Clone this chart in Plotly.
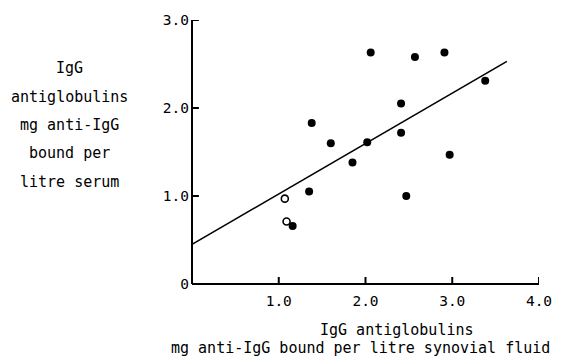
import plotly.graph_objects as go

# Data
filled_x = [1.16, 1.35, 1.38, 1.60, 1.85, 2.02, 2.06, 2.41, 2.41, 2.47, 2.57, 2.91, 2.97, 3.38]
filled_y = [0.66, 1.05, 1.83, 1.60, 1.38, 1.61, 2.63, 2.05, 1.72, 1.00, 2.58, 2.63, 1.47, 2.31]
open_x = [1.07, 1.09]
open_y = [0.97, 0.71]
fit_intercept = 0.45
fit_slope = 0.573
fit_x = [0.0, 3.63]
fit_y = [fit_intercept + fit_slope * v for v in fit_x]

x_tickvals = [1, 2, 3, 4]
x_ticktext = ["1.0", "2.0", "3.0", "4.0"]
y_tickvals = [0, 1, 2, 3]
y_ticktext = ["0", "1.0", "2.0", "3.0"]

y_title_lines = ["IgG", "antiglobulins", "mg anti-IgG", "bound per", "litre serum"]
x_title_line1 = "IgG antiglobulins"
x_title_line2 = "mg anti-IgG bound per litre synovial fluid"

FONT = "DejaVu Sans Mono"
W, H = 564, 360
L, R, T, B = 192, 20, 20, 76
pw, ph = W - L - R, H - T - B
TICKLEN = 7


def px(x):
    return (x - L) / pw


def py(y):
    return (H - B - y) / ph


fig = go.Figure()
fig.add_trace(go.Scatter(x=fit_x, y=fit_y, mode="lines",
                         line=dict(color="black", width=1.6), showlegend=False))
fig.add_trace(go.Scatter(x=filled_x, y=filled_y, mode="markers",
                         marker=dict(color="black", size=8, line=dict(width=0)),
                         showlegend=False))
fig.add_trace(go.Scatter(x=open_x, y=open_y, mode="markers",
                         marker=dict(color="white", size=7, symbol="circle",
                                     line=dict(color="black", width=1.6)),
                         showlegend=False))

annotations = []
line_ys = [68, 96.5, 125, 153.5, 182]
for txt, yy in zip(y_title_lines, line_ys):
    annotations.append(dict(text=txt, x=px(68), y=py(yy), xref="paper", yref="paper",
                            showarrow=False, xanchor="center", yanchor="middle",
                            font=dict(family=FONT, size=15, color="black")))
annotations.append(dict(text=x_title_line1, x=px(400), y=py(330), xref="paper", yref="paper",
                        showarrow=False, xanchor="center", yanchor="middle",
                        font=dict(family=FONT, size=15, color="black")))
annotations.append(dict(text=x_title_line2, x=px(363), y=py(348), xref="paper", yref="paper",
                        showarrow=False, xanchor="center", yanchor="middle",
                        font=dict(family=FONT, size=15, color="black")))

# Axis lines and inside ticks drawn as shapes
shapes = [
    dict(type="line", xref="paper", yref="paper", x0=0, x1=1, y0=0, y1=0,
         line=dict(color="black", width=2)),
    dict(type="line", xref="paper", yref="paper", x0=0, x1=0, y0=0, y1=1,
         line=dict(color="black", width=2)),
]
for v in x_tickvals:
    shapes.append(dict(type="line", xref="x", yref="paper", x0=v, x1=v,
                       y0=0, y1=TICKLEN / ph, line=dict(color="black", width=2)))
for v in y_tickvals[1:]:
    shapes.append(dict(type="line", xref="paper", yref="y", x0=0, x1=TICKLEN / pw,
                       y0=v, y1=v, line=dict(color="black", width=2)))

fig.update_layout(
    width=W, height=H,
    margin=dict(l=L, r=R, t=T, b=B, pad=0),
    paper_bgcolor="white", plot_bgcolor="white",
    font=dict(family=FONT, size=15, color="black"),
    annotations=annotations,
    shapes=shapes,
    xaxis=dict(range=[0, 4], showgrid=False, zeroline=False, showline=False,
               ticks="", tickvals=x_tickvals, ticktext=x_ticktext, ticklabelstandoff=6,
               tickfont=dict(family=FONT, size=14.5, color="black")),
    yaxis=dict(range=[0, 3], showgrid=False, zeroline=False, showline=False,
               ticks="", tickvals=y_tickvals, ticktext=y_ticktext, ticklabelstandoff=2,
               tickfont=dict(family=FONT, size=14.5, color="black")),
)

fig.write_html("out.html")
